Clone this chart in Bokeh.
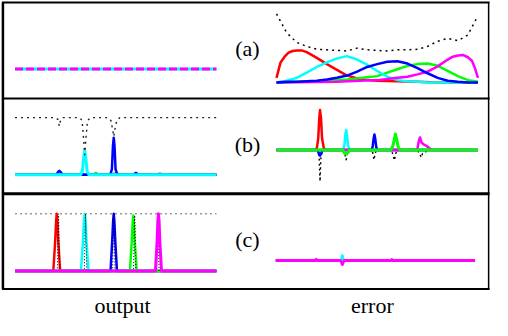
from bokeh.plotting import figure
from bokeh.models import Range1d
from bokeh.embed import file_html
from bokeh.resources import INLINE
from bokeh.core.properties import value

# ---------------- data (positions along a panel 0..1, amplitudes in units) ----------------
ROW_LABELS = ["(a)", "(b)", "(c)"]
COLUMN_TITLES = ["output", "error"]

# (a) output: two coincident flat responses
A_OUT_T = [0.0, 1.0]
A_OUT_V = [0.2, 0.2]

# (a) error: five smooth bumps and their dotted envelope
A_T = [0.00, 0.05, 0.10, 0.15, 0.20, 0.25, 0.30, 0.35, 0.40, 0.45, 0.50,
       0.55, 0.60, 0.65, 0.70, 0.75, 0.80, 0.85, 0.90, 0.95, 1.00]
A_RED_T = [0.0, 0.02, 0.04, 0.06, 0.08, 0.1, 0.125, 0.15, 0.2, 0.25, 0.3,
           0.35, 0.4, 0.45, 0.5, 0.6, 0.7, 0.8, 1.0]
A_RED = [0.08, 0.35, 0.45, 0.52, 0.55, 0.56, 0.56, 0.53, 0.43, 0.32, 0.22,
         0.12, 0.07, 0.04, 0.03, 0.02, 0.01, 0.0, 0.0]
A_CYAN = [0.0, 0.03, 0.08, 0.17, 0.27, 0.35, 0.42, 0.46, 0.40, 0.31, 0.20,
          0.10, 0.04, 0.02, 0.01, 0.0, 0.0, 0.0, 0.0, 0.0, 0.0]
A_BLUE = [0.0, 0.01, 0.01, 0.02, 0.03, 0.05, 0.08, 0.12, 0.19, 0.27, 0.32,
          0.36, 0.37, 0.33, 0.25, 0.16, 0.08, 0.03, 0.01, 0.0, 0.0]
A_GREEN = [0.0, 0.0, 0.01, 0.01, 0.02, 0.03, 0.04, 0.05, 0.07, 0.09, 0.11,
           0.17, 0.23, 0.29, 0.32, 0.33, 0.29, 0.20, 0.11, 0.04, 0.01]
A_MAG_T = [0.0, 0.3, 0.5, 0.55, 0.6, 0.65, 0.7, 0.75, 0.8, 0.85, 0.875,
           0.9, 0.925, 0.95, 0.97, 0.985, 1.0]
A_MAGENTA = [0.0, 0.01, 0.04, 0.06, 0.08, 0.10, 0.14, 0.19, 0.28, 0.40, 0.45,
             0.47, 0.48, 0.44, 0.38, 0.25, 0.08]
A_DOTTED = [1.20, 0.87, 0.70, 0.63, 0.58, 0.57, 0.56, 0.55, 0.60, 0.57, 0.56,
            0.55, 0.57, 0.57, 0.58, 0.63, 0.72, 0.77, 0.73, 0.83, 1.17]

# (b) output
B_OUT_DOT_T = [0, 0.2, 0.213, 0.22, 0.227, 0.24, 0.32, 0.333, 0.341, 0.346, 0.351,
               0.36, 0.375, 0.46, 0.476, 0.484, 0.49, 0.496, 0.505, 0.52, 1]
B_OUT_DOT_V = [1, 1, 0.97, 0.85, 0.97, 1, 1, 0.95, 0.6, 0.35, 0.6,
               0.95, 1, 1, 0.95, 0.8, 0.67, 0.8, 0.95, 1, 1]
B_OUT_RED_T = [0, 1]
B_OUT_RED_V = [0, 0]
B_OUT_GREEN_T = [0, 0.392, 0.398, 0.404, 0.41, 0.5, 0.505, 0.511, 0.516, 1]
B_OUT_GREEN_V = [0, 0, 0.03, 0.03, 0, 0, 0.02, 0.02, 0, 0]
B_OUT_BLUE_T = [0, 0.205, 0.214, 0.22, 0.226, 0.235, 0.472, 0.481, 0.486, 0.49,
                0.494, 0.499, 0.508, 0.59, 0.597, 0.603, 0.61, 1]
B_OUT_BLUE_V = [0, 0, 0.05, 0.07, 0.05, 0, 0, 0.1, 0.5, 0.65,
                0.5, 0.1, 0, 0, 0.03, 0.03, 0, 0]
B_OUT_MAG_T = [0, 0.482, 0.488, 0.494, 0.5, 0.71, 0.716, 0.723, 0.73, 1]
B_OUT_MAG_V = [0, 0, 0.02, 0.02, 0, 0, 0.02, 0.02, 0, 0]
B_OUT_CYAN_T = [0, 0.325, 0.334, 0.341, 0.346, 0.351, 0.358, 0.367, 1]
B_OUT_CYAN_V = [0, 0, 0.06, 0.3, 0.42, 0.3, 0.06, 0, 0]

# (b) error
B_ERR_DOT_T = [0, 0.205, 0.212, 0.216, 0.22, 0.228, 0.33, 0.338, 0.346, 0.352, 0.36,
               0.47, 0.478, 0.484, 0.49, 0.498, 0.57, 0.578, 0.585, 0.592, 0.6,
               0.7, 0.71, 0.718, 0.725, 0.735, 0.75, 1]
B_ERR_DOT_V = [0, 0, -0.15, -0.55, -0.15, 0, 0, -0.05, -0.17, -0.05, 0,
               0, -0.05, -0.17, -0.05, 0, 0, -0.08, -0.18, -0.06, 0,
               0, -0.06, -0.13, -0.06, -0.05, 0, 0]
B_ERR_RED_T = [0, 0.19, 0.2, 0.207, 0.212, 0.216, 0.221, 0.226, 0.235, 0.245, 1]
B_ERR_RED_V = [0, 0, 0.03, 0.2, 0.55, 0.7, 0.55, 0.2, 0.03, 0, 0]
B_ERR_CYAN_T = [0, 0.33, 0.337, 0.342, 0.346, 0.35, 0.355, 0.362, 0.372, 1]
B_ERR_CYAN_V = [0, 0, 0.08, 0.28, 0.35, 0.26, 0.08, 0.02, 0, 0]
B_ERR_BLUE_T = [0, 0.204, 0.21, 0.216, 0.222, 0.228, 0.47, 0.477, 0.482, 0.486,
                0.49, 0.495, 0.502, 1]
B_ERR_BLUE_V = [0, 0, -0.06, -0.1, -0.06, 0, 0, 0.05, 0.2, 0.27,
                0.2, 0.05, 0, 0]
B_ERR_MAG_T = [0, 0.69, 0.7, 0.706, 0.712, 0.72, 0.73, 0.745, 0.76, 0.775, 1]
B_ERR_MAG_V = [0, 0, 0.03, 0.15, 0.22, 0.13, 0.1, 0.07, 0.03, 0, 0]
B_ERR_GREEN_T = [0, 0.33, 0.338, 0.346, 0.354, 0.362, 0.565, 0.575, 0.583, 0.59,
                 0.597, 0.605, 0.615, 1]
B_ERR_GREEN_V = [0, 0, -0.06, -0.07, -0.05, 0, 0, 0.04, 0.15, 0.28,
                 0.18, 0.04, 0, 0]

# (c) output
C_OUT_GREY_T = [0, 1]
C_OUT_GREY_V = [1, 1]
C_OUT_RED_T = [0, 0.19, 0.199, 0.204, 0.207, 0.21, 0.215, 0.224, 1]
C_OUT_CYAN_T = [0, 0.327, 0.337, 0.342, 0.346, 0.35, 0.355, 0.365, 1]
C_OUT_BLUE_T = [0, 0.474, 0.482, 0.487, 0.49, 0.493, 0.498, 0.506, 1]
C_OUT_GREEN_T = [0, 0.57, 0.579, 0.584, 0.587, 0.59, 0.595, 0.604, 1]
C_OUT_MAG_T = [0, 0.697, 0.705, 0.709, 0.712, 0.715, 0.719, 0.727, 1]
C_OUT_PEAK_V = [0, 0, 0.5, 0.88, 1.0, 0.88, 0.5, 0, 0]
C_OUT_GREEN_V = [0, 0, 0.48, 0.85, 0.97, 0.85, 0.48, 0, 0]
C_OUT_DOT_T = [0, 0.21, 0.216, 0.222, 0.344, 0.35, 0.356, 0.484, 0.49, 0.496,
               0.588, 0.594, 0.6, 0.703, 0.709, 0.715, 1]
C_OUT_DOT_V = [0, 0, 1, 0, 0, 1, 0, 0, 1, 0,
               0, 0.97, 0, 0, 1, 0, 0]

# (c) error
C_ERR_CYAN_T = [0, 0.325, 0.331, 0.335, 0.339, 0.345, 1]
C_ERR_CYAN_V = [0, 0, 0.03, 0.09, 0.03, 0, 0]
C_ERR_MAG_T = [0, 0.2, 0.204, 0.208, 0.325, 0.331, 0.335, 0.339, 0.345,
               0.579, 0.583, 0.587, 1]
C_ERR_MAG_V = [0, 0, 0.02, 0, 0, -0.03, -0.07, -0.03, 0,
               0, 0.015, 0, 0]

# ---------------- layout (reference frame 508 x 336, y downward) ----------------
OUT_X = (15, 223)
ERR_X = (285, 493)
C_ERR_X = (284, 490)
UNIT = 60
BASE_A_OUT, BASE_A_ERR = 84, 86
BASE_B_OUT, BASE_B_ERR = 183, 157
BASE_C_OUT, BASE_C_ERR = 284, 273

RED, CYAN, BLUE, GREEN, MAGENTA = "#ff0000", "#00ffff", "#0000ff", "#00ff00", "#ff00ff"
LW = 2.5
FONT = value("Liberation Serif")

p = figure(width=492, height=320, x_range=Range1d(0, 508), y_range=Range1d(336, 0),
           output_backend="svg", toolbar_location=None, min_border=0,
           x_axis_type=None, y_axis_type=None)
p.outline_line_color = None
p.background_fill_color = "white"
p.border_fill_color = "white"


def draw(t, v, xs, base, color, width=LW, dash="solid", alpha=1.0):
    x = [xs[0] + ti * (xs[1] - xs[0]) for ti in t]
    y = [base - vi * UNIT for vi in v]
    p.line(x, y, line_color=color, line_width=width, line_dash=dash,
           line_alpha=alpha, line_join="round")


# frames
p.segment(x0=[1.5, 1.5, 1.5, 1.5], y0=[2, 103, 203, 303],
          x1=[505, 505, 505, 505], y1=[2, 103, 203, 303],
          line_color="black", line_width=[2, 2, 3, 2])
p.segment(x0=[2.5, 504], y0=[2, 2], x1=[2.5, 504], y1=[303, 303],
          line_color="black", line_width=[2.5, 1.5])

# (a) output
draw(A_OUT_T, A_OUT_V, OUT_X, BASE_A_OUT, CYAN, width=3)
draw(A_OUT_T, A_OUT_V, OUT_X, BASE_A_OUT, MAGENTA, width=3, dash="8 3")

# (a) error
draw(A_T, A_DOTTED, ERR_X, BASE_A_ERR, "black", width=1.5, dash="2 4")
draw(A_RED_T, A_RED, ERR_X, BASE_A_ERR, RED)
draw(A_T, A_GREEN, ERR_X, BASE_A_ERR, GREEN)
draw(A_T, A_CYAN, ERR_X, BASE_A_ERR, CYAN)
draw(A_MAG_T, A_MAGENTA, ERR_X, BASE_A_ERR, MAGENTA)
draw(A_T, A_BLUE, ERR_X, BASE_A_ERR, BLUE)

# (b) output
draw(B_OUT_RED_T, B_OUT_RED_V, OUT_X, BASE_B_OUT, RED)
draw(B_OUT_GREEN_T, B_OUT_GREEN_V, OUT_X, BASE_B_OUT, GREEN)
draw(B_OUT_MAG_T, B_OUT_MAG_V, OUT_X, BASE_B_OUT, MAGENTA)
draw(B_OUT_BLUE_T, B_OUT_BLUE_V, OUT_X, BASE_B_OUT, BLUE)
draw(B_OUT_CYAN_T, B_OUT_CYAN_V, OUT_X, BASE_B_OUT, CYAN, width=3)
draw(B_OUT_DOT_T, B_OUT_DOT_V, OUT_X, BASE_B_OUT, "#222222", width=1.4, dash="2 4")

# (b) error
draw(B_ERR_DOT_T, B_ERR_DOT_V, ERR_X, BASE_B_ERR, "black", width=1.4, dash="2 3")
draw(B_ERR_RED_T, B_ERR_RED_V, ERR_X, BASE_B_ERR, RED)
draw(B_ERR_CYAN_T, B_ERR_CYAN_V, ERR_X, BASE_B_ERR, CYAN)
draw(B_ERR_BLUE_T, B_ERR_BLUE_V, ERR_X, BASE_B_ERR, BLUE)
draw(B_ERR_MAG_T, B_ERR_MAG_V, ERR_X, BASE_B_ERR, MAGENTA)
draw(B_ERR_GREEN_T, B_ERR_GREEN_V, ERR_X, BASE_B_ERR, GREEN, width=3)

# (c) output
draw(C_OUT_GREY_T, C_OUT_GREY_V, OUT_X, BASE_C_OUT, "#999999", width=1.5, dash="2 3")
draw(C_OUT_RED_T, C_OUT_PEAK_V, OUT_X, BASE_C_OUT, RED)
draw(C_OUT_CYAN_T, C_OUT_PEAK_V, OUT_X, BASE_C_OUT, CYAN)
draw(C_OUT_BLUE_T, C_OUT_PEAK_V, OUT_X, BASE_C_OUT, BLUE)
draw(C_OUT_GREEN_T, C_OUT_GREEN_V, OUT_X, BASE_C_OUT, GREEN)
draw(C_OUT_DOT_T, C_OUT_DOT_V, OUT_X, BASE_C_OUT, "black", width=1, dash="1 2")
draw(C_OUT_MAG_T, C_OUT_PEAK_V, OUT_X, BASE_C_OUT, MAGENTA, width=3)

# (c) error
draw(C_ERR_CYAN_T, C_ERR_CYAN_V, C_ERR_X, BASE_C_ERR, CYAN)
draw(C_ERR_MAG_T, C_ERR_MAG_V, C_ERR_X, BASE_C_ERR, MAGENTA, width=3)

# texts
p.text(x=[255, 255, 255], y=[50.5, 151, 251], text=ROW_LABELS,
       text_font=FONT, text_font_size="22px", text_color="black",
       text_align="center", text_baseline="middle")
p.text(x=[126, 384], y=[320, 320], text=COLUMN_TITLES,
       text_font=FONT, text_font_size="22px", text_color="black",
       text_align="center", text_baseline="middle")

open("out.html", "w").write(file_html(p, INLINE))
